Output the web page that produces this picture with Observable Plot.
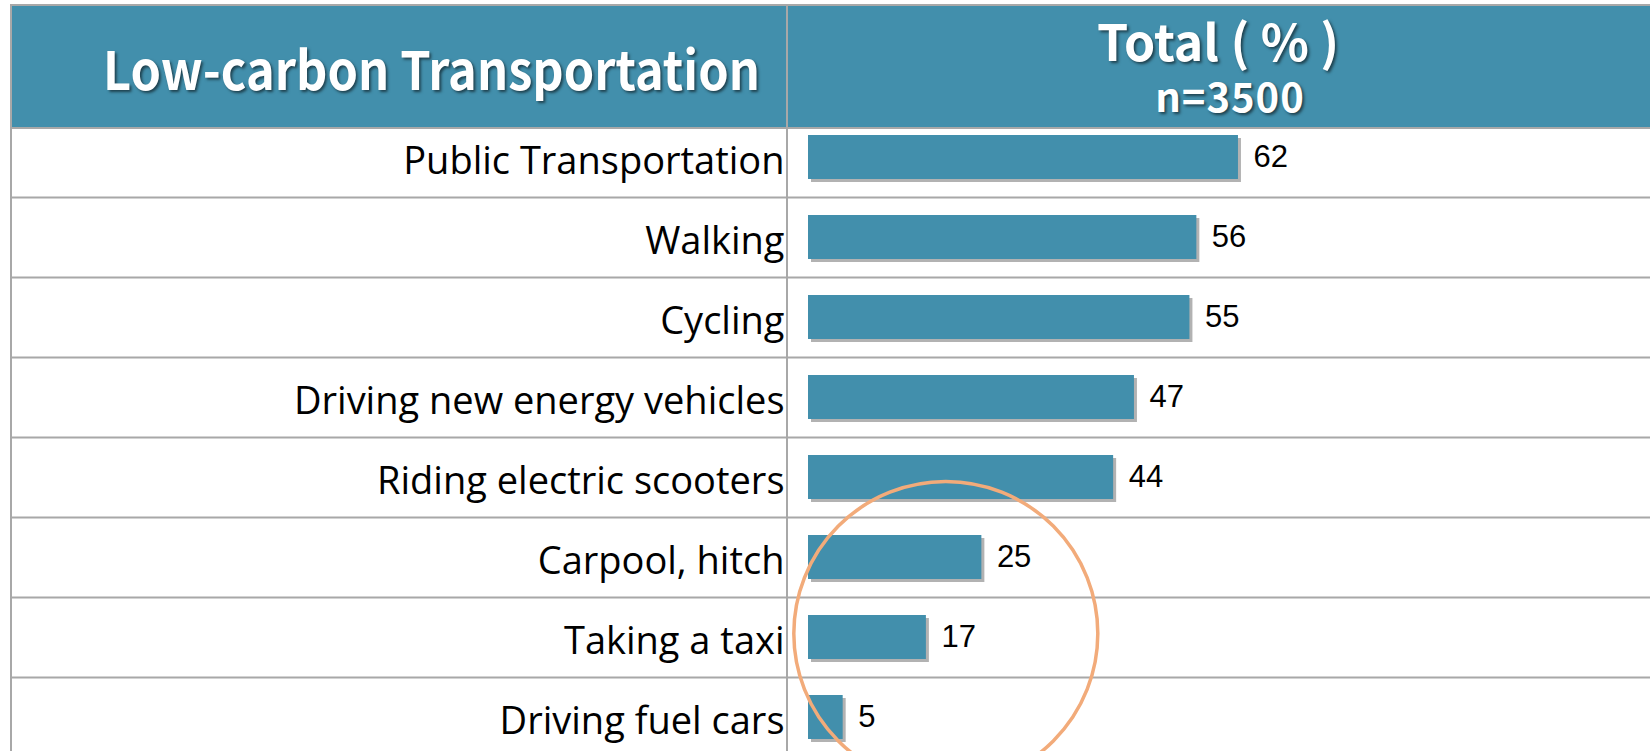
<!DOCTYPE html>
<html>
<head>
<meta charset="utf-8">
<script src="https://cdn.jsdelivr.net/npm/d3@7"></script>
<script src="https://cdn.jsdelivr.net/npm/@observablehq/plot@0.6"></script>
<style>
  html, body { margin: 0; padding: 0; background: #fff; }
  #wrap { position: relative; width: 1650px; height: 751px; overflow: hidden; }
  #header {
    margin-top: 4px; margin-left: 12px; height: 121px;
    border-top: 2px solid #a8a8a8; border-bottom: 2px solid #a8a8a8;
    background: #428fac; display: flex; color: #fff;
    font-family: "Noto Sans CJK SC", sans-serif; font-weight: 700;
    text-shadow: 2px 2px 3px rgba(0,0,0,0.55);
  }
  #hl { width: 774px; box-sizing: border-box; display: flex; align-items: center;
        justify-content: flex-end; padding-right: 26px; font-size: 53px; }
  #hl span { display: inline-block; transform: scaleX(0.92); transform-origin: right center; }
  #hr { flex: 1; display: flex; flex-direction: column; align-items: center; justify-content: center; }
  #hr .t1 { font-size: 50px; line-height: 1.0; position: relative; top: -8px; }
  #hr .t2 { font-size: 40px; line-height: 1.0; letter-spacing: 1px; position: relative; top: 3px; left: 12px; }
  .vline { position: absolute; top: 4px; bottom: 0; width: 2px; background: #a8a8a8; }
  #plot svg { display: block; }
</style>
</head>
<body>
<div id="wrap">
  <div id="header">
    <div id="hl"><span>Low-carbon Transportation</span></div>
    <div id="hr"><div class="t1">Total ( % )</div><div class="t2">n=3500</div></div>
  </div>
  <div id="plot"></div>
  <div class="vline" style="left:10px"></div>
  <div class="vline" style="left:786px"></div>
</div>
<script>
const categories = [
  "Public Transportation",
  "Walking",
  "Cycling",
  "Driving new energy vehicles",
  "Riding electric scooters",
  "Carpool, hitch",
  "Taking a taxi",
  "Driving fuel cars"
];
const values = [62, 56, 55, 47, 44, 25, 17, 5];
const highlight = [{category: "Taking a taxi", value: 19.8}];

const data = categories.map((c, i) => ({category: c, value: values[i]}));

const chart = Plot.plot({
  width: 1650,
  height: 622,
  marginLeft: 12,
  marginRight: 0,
  marginTop: 0,
  marginBottom: 6,
  x: {domain: [0, 100], range: [808, 1501.5], axis: null},
  y: {domain: categories, range: [0, 616], paddingInner: 0.45, paddingOuter: 0.075, axis: null},
  style: {background: "transparent", overflow: "visible"},
  marks: [
    Plot.ruleY(categories, {y: d => d, dy: 40, stroke: "#a8a8a8", strokeWidth: 2}),
    Plot.barX(data, {x: "value", y: "category", fill: "#000", fillOpacity: 0.3, dx: 3, dy: 3, ariaLabel: "bar-shadow"}),
    Plot.barX(data, {x: "value", y: "category", fill: "#428fac"}),
    Plot.text(data, {x: "value", y: "category", text: d => String(d.value), dx: 15, textAnchor: "start",
      fontSize: 31, fontFamily: "Liberation Sans, Arial, sans-serif", fill: "#000"}),
    Plot.text(data, {x: () => 0, y: "category", text: "category", dx: -24, dy: 4, textAnchor: "end",
      fontSize: 38, fontFamily: "Open Sans, sans-serif", fill: "#000"}),
    Plot.dot(highlight, {x: "value", y: "category", r: 152, dy: -4, stroke: "#f2ab7a", strokeWidth: 3.5, fill: "none"})
  ]
});
document.getElementById("plot").appendChild(chart);
const sh = chart.querySelector('g[aria-label="bar-shadow"]');
if (sh) sh.style.filter = "blur(2px)";
</script>
</body>
</html>
